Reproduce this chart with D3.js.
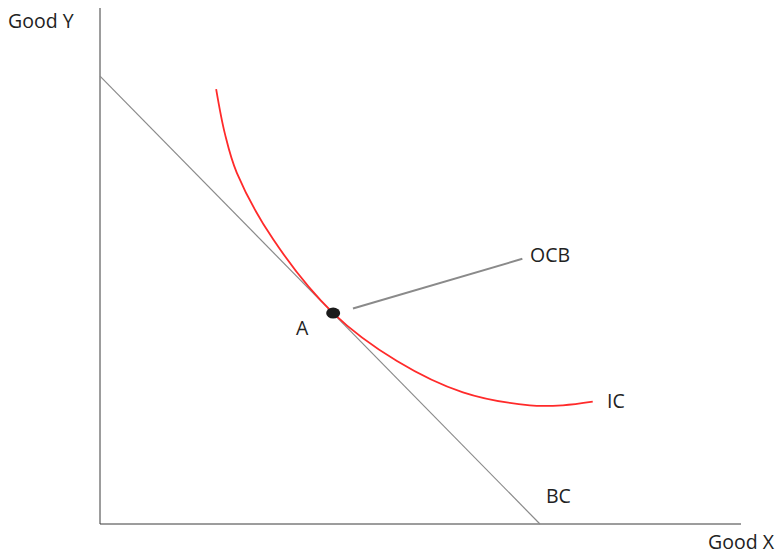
<!DOCTYPE html>
<html>
<head>
<meta charset="utf-8">
<script src="https://cdn.jsdelivr.net/npm/d3@7"></script>
<style>
  html, body { margin: 0; padding: 0; background: #fff; }
  text { font-family: "Open Sans", "Noto Sans", sans-serif; fill: #222; }
</style>
</head>
<body>
<svg id="chart" width="779" height="554"></svg>
<script>
// Axis extents (quantity units)
const xMax = 14.57;
const yMax = 11.52;

// Budget constraint endpoints
const bcX = [0, 10];
const bcY = [10, 0];

// Indifference curve points
const icX = [2.64, 2.84, 3.11, 3.94, 5.30, 6.75, 8.25, 9.77, 10.52, 11.20];
const icY = [9.71, 8.71, 7.84, 6.35, 4.71, 3.64, 2.94, 2.65, 2.65, 2.73];

// Optimal consumption bundle
const optX = [5.30];
const optY = [4.71];

// Pointer from the bundle to its label
const ocbX = [5.75, 9.60];
const ocbY = [4.81, 5.92];

const svg = d3.select("#chart");
const x = d3.scaleLinear().domain([0, xMax]).range([100, 741]);
const y = d3.scaleLinear().domain([0, yMax]).range([524, 8]);

// Axes
svg.append("line").attr("x1", x(0)).attr("x2", x(0)).attr("y1", y(0)).attr("y2", y(yMax))
  .attr("stroke", "#3a3a3a").attr("stroke-width", 1);
svg.append("line").attr("x1", x(0)).attr("x2", x(xMax)).attr("y1", y(0)).attr("y2", y(0))
  .attr("stroke", "#3a3a3a").attr("stroke-width", 1);

// Budget line
svg.append("line")
  .attr("x1", x(bcX[0])).attr("y1", y(bcY[0]))
  .attr("x2", x(bcX[1])).attr("y2", y(bcY[1]))
  .attr("stroke", "#8a8a8a").attr("stroke-width", 1.2);

// Indifference curve
const icLine = d3.line().x(d => x(d[0])).y(d => y(d[1])).curve(d3.curveCatmullRom.alpha(0.5));
svg.append("path")
  .datum(icX.map((v, i) => [v, icY[i]]))
  .attr("d", icLine)
  .attr("fill", "none").attr("stroke", "#ff2a2a").attr("stroke-width", 1.8);

// Pointer line
svg.append("line")
  .attr("x1", x(ocbX[0])).attr("y1", y(ocbY[0]))
  .attr("x2", x(ocbX[1])).attr("y2", y(ocbY[1]))
  .attr("stroke", "#8a8a8a").attr("stroke-width", 2);

// Bundle marker
svg.selectAll("ellipse.opt").data(optX).join("ellipse")
  .attr("class", "opt")
  .attr("cx", d => x(d)).attr("cy", (d, i) => y(optY[i]))
  .attr("rx", 7).attr("ry", 5.5).attr("fill", "#1b1b1b");

// Labels
const fs = 19.5;
svg.append("text").attr("x", 8).attr("y", 28).attr("font-size", fs).text("Good Y");
svg.append("text").attr("x", 774).attr("y", 549).attr("font-size", fs)
  .attr("text-anchor", "end").text("Good X");
svg.append("text").attr("x", 296).attr("y", 335).attr("font-size", fs).text("A");
svg.append("text").attr("x", 530).attr("y", 262).attr("font-size", fs).text("OCB");
svg.append("text").attr("x", 607).attr("y", 408).attr("font-size", fs).text("IC");
svg.append("text").attr("x", 546).attr("y", 503).attr("font-size", fs).text("BC");
</script>
</body>
</html>
